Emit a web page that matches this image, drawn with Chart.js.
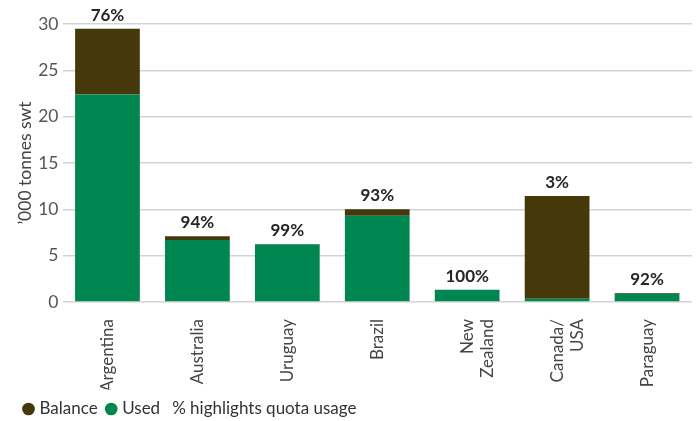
<!DOCTYPE html>
<html>
<head>
<meta charset="utf-8">
<script src="https://cdn.jsdelivr.net/npm/chart.js@4.4.1/dist/chart.umd.min.js"></script>
<style>
  html, body { margin: 0; padding: 0; background: #fff; }
  #wrap { width: 697px; height: 421px; }
</style>
</head>
<body>
<div id="wrap"><canvas id="quota"></canvas></div>
<script>
var countries = ['Argentina', 'Australia', 'Uruguay', 'Brazil', ['New', 'Zealand'], ['Canada/', 'USA'], 'Paraguay'];
var used = [22.4, 6.7, 6.2, 9.3, 1.33, 0.35, 0.9];
var balance = [7.1, 0.4, 0.06, 0.7, 0, 11.1, 0.08];
var usage = ['76%', '94%', '99%', '93%', '100%', '3%', '92%'];
var yTicks = [0, 5, 10, 15, 20, 25, 30];

var GREEN = '#008650';
var BROWN = '#45390c';
var FONT = 'Lato, "Open Sans", sans-serif';

// % usage written over each stack
var usageLabels = {
    id: 'usageLabels',
    afterDatasetsDraw: function (chart) {
        var ctx = chart.ctx;
        var top = chart.getDatasetMeta(1);
        ctx.save();
        ctx.font = 'bold 17px ' + FONT;
        ctx.fillStyle = '#262626';
        ctx.textAlign = 'center';
        ctx.textBaseline = 'bottom';
        top.data.forEach(function (bar, i) {
            ctx.fillText(usage[i], bar.x, bar.y - 5);
        });
        ctx.restore();
    }
};

// note after the legend entries
var legendNote = {
    id: 'legendNote',
    afterDraw: function (chart) {
        var boxes = chart.legend.legendHitBoxes;
        if (!boxes || !boxes.length) return;
        var last = boxes[boxes.length - 1];
        var ctx = chart.ctx;
        ctx.save();
        ctx.font = '17px ' + FONT;
        ctx.fillStyle = '#333';
        ctx.textAlign = 'left';
        ctx.textBaseline = 'middle';
        ctx.fillText('% highlights quota usage', last.left + last.width + 12, last.top + last.height / 2);
        ctx.restore();
    }
};

var ctx = document.getElementById('quota');
var quota = new Chart(ctx, {
    type: 'bar',
    data: {
        labels: countries,
        datasets: [{
            label: 'Used',
            data: used,
            backgroundColor: GREEN,
            barPercentage: 0.72,
            categoryPercentage: 1
        }, {
            label: 'Balance',
            data: balance,
            backgroundColor: BROWN,
            barPercentage: 0.72,
            categoryPercentage: 1
        }]
    },
    options: {
        responsive: true,
        maintainAspectRatio: false,
        animation: false,
        layout: {
            padding: { top: 24, right: 5, left: 15, bottom: -6.5 }
        },
        plugins: {
            legend: {
                position: 'bottom',
                align: 'start',
                reverse: true,
                labels: {
                    usePointStyle: true,
                    pointStyle: 'circle',
                    boxWidth: 5,
                    boxHeight: 9,
                    padding: 11,
                    color: '#333',
                    font: { family: FONT, size: 17 }
                }
            },
            tooltip: { enabled: false }
        },
        scales: {
            x: {
                stacked: true,
                grid: { display: false },
                border: { display: false },
                ticks: {
                    minRotation: 90,
                    maxRotation: 90,
                    padding: 9,
                    color: '#444',
                    font: { family: FONT, size: 17 }
                },
                afterFit: function (scale) { scale.height = 87.5; }
            },
            y: {
                stacked: true,
                min: 0,
                max: 30,
                afterBuildTicks: function (scale) {
                    scale.ticks = yTicks.map(function (v) { return { value: v }; });
                },
                grid: { color: '#d4d4d4', lineWidth: 1.5, drawTicks: false },
                border: { display: false },
                ticks: {
                    padding: 4,
                    color: '#555',
                    font: { family: FONT, size: 17.5 }
                },
                title: {
                    display: true,
                    text: '\u2019000 tonnes swt',
                    color: '#444',
                    font: { family: FONT, size: 17.5 },
                    padding: 0
                },
                afterFit: function (scale) { scale.width = 47.5; }
            }
        }
    },
    plugins: [usageLabels, legendNote]
});
</script>
</body>
</html>
